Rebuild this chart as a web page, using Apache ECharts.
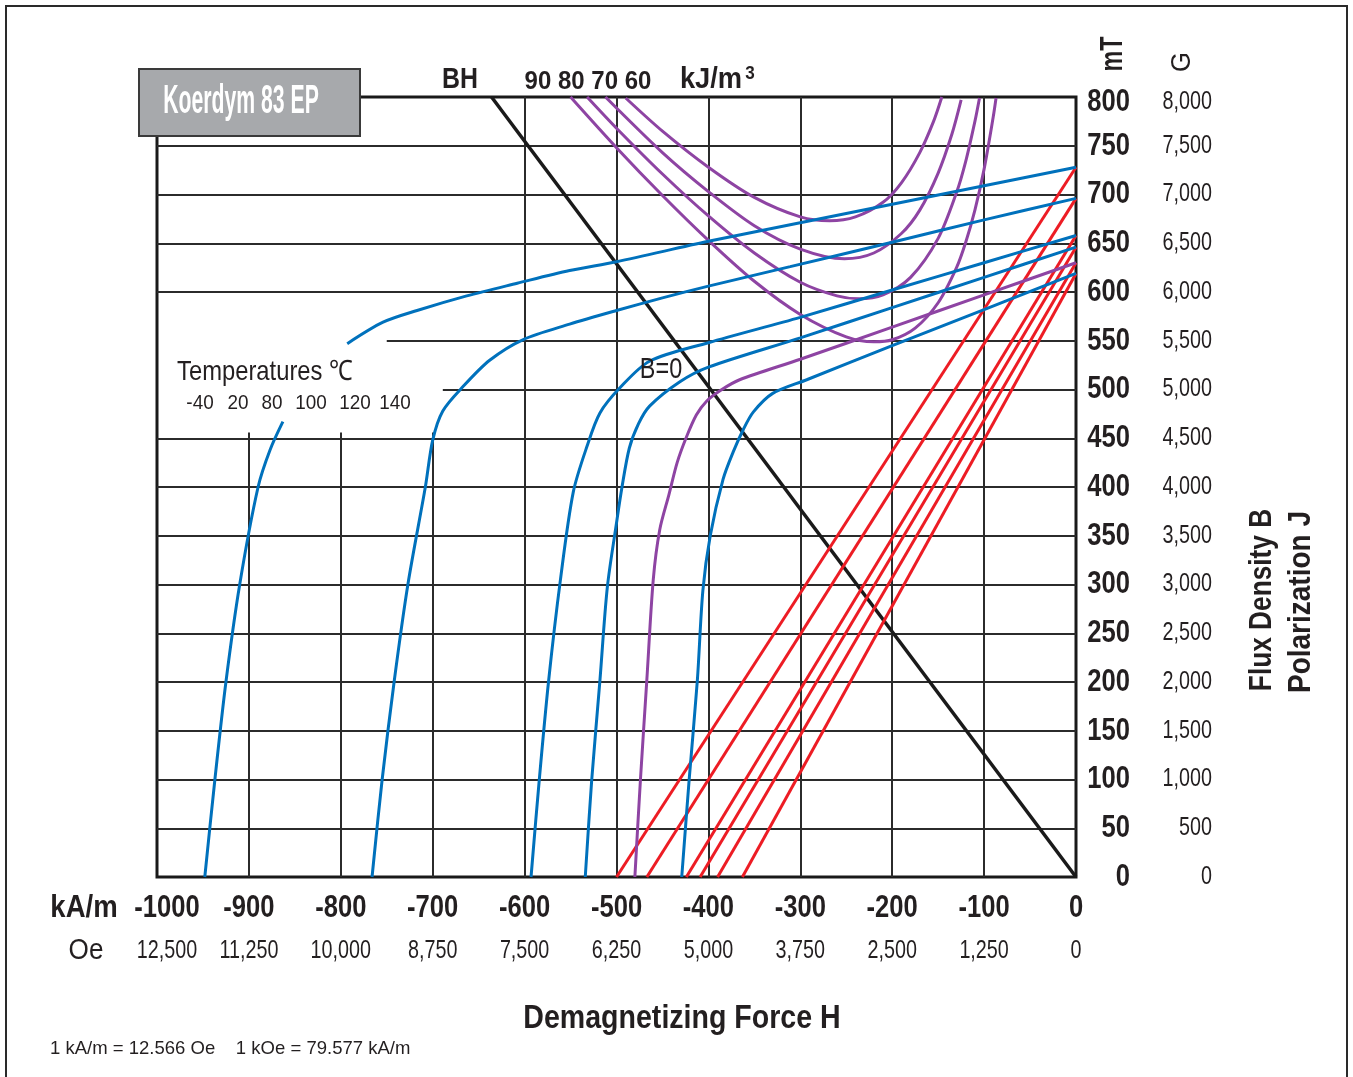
<!DOCTYPE html>
<html>
<head>
<meta charset="utf-8">
<title>Koerdym 83 EP – demagnetization curves</title>
<script src="https://cdn.jsdelivr.net/npm/echarts@6/dist/echarts.min.js"></script>
<style>
  html, body { margin: 0; padding: 0; background: #fff; }
  #chart { width: 1353px; height: 1077px; }
</style>
</head>
<body>
<div id="chart"></div>
<script>
// ---- axis scales and tick labels -------------------------------------------
const hMin = -1000, hMax = 0, hStep = 100;       // kA/m
const bMin = 0, bMax = 800, bStep = 50;          // mT
const oeLabels = ['12,500', '11,250', '10,000', '8,750', '7,500', '6,250',
                  '5,000', '3,750', '2,500', '1,250', '0'];
const gaussLabels = ['0', '500', '1,000', '1,500', '2,000', '2,500', '3,000', '3,500',
                     '4,000', '4,500', '5,000', '5,500', '6,000', '6,500', '7,000',
                     '7,500', '8,000'];
const temperatures = ['-40', '20', '80', '100', '120', '140'];
const energyLabels = ['90', '80', '70', '60'];

// ---- grid lines (values in kA/m and mT) ------------------------------------
const gridB = [50, 100, 150, 200, 250, 300, 350, 400, 450, 500, 550, 600, 650, 700, 750];
const gridH = [-900, -800, -700, -600, -500, -400, -300, -200, -100];
// grid lines stop short of the temperature caption
const rowStartH = { 550: -750, 500: -689 };
const colTopB = { '-900': 456, '-800': 456, '-700': 456 };

// ---- polarization J(H) per temperature [H kA/m, J mT] ----------------------
const jM40a = [[0, 728], [-100, 709], [-200, 690], [-311, 669], [-400, 652], [-500, 631],
               [-551, 622], [-608, 609], [-663, 596], [-717, 581], [-754, 569], [-793, 547]];
const jM40b = [[-863, 467], [-877, 438], [-890, 400], [-910, 300], [-925, 200],
               [-937, 100], [-948, 0]];
const j20 = [[0, 696], [-100, 674], [-200, 651], [-311, 626], [-400, 606], [-450, 594],
             [-500, 581], [-551, 567], [-602, 551], [-638, 530], [-667, 503], [-689, 478],
             [-700, 448], [-708, 400], [-727, 300], [-742, 200], [-755, 100], [-766, 0]];
const j80 = [[0, 658], [-100, 630], [-200, 602], [-300, 574], [-400, 548], [-464, 529],
             [-496, 502], [-518, 476], [-532, 442], [-547, 395], [-561, 305], [-574, 200],
             [-584, 100], [-593, 0]];
const j100 = [[0, 646], [-100, 615], [-200, 584], [-300, 553], [-400, 523], [-431, 508],
              [-464, 483], [-476, 465], [-486, 440], [-494, 400], [-500, 363], [-510, 297],
              [-518, 202], [-527, 99], [-534, 0]];
const j120 = [[0, 630], [-100, 597], [-200, 564], [-300, 531], [-366, 510], [-387, 499],
              [-402, 488], [-413, 474], [-424, 451], [-434, 425], [-443, 392], [-453, 356],
              [-460, 305], [-467, 202], [-474, 99], [-480, 0]];
const j140 = [[0, 619], [-100, 582], [-200, 545], [-293, 510], [-330, 496], [-351, 477],
              [-362, 459], [-373, 436], [-384, 408], [-398, 350], [-406, 294], [-412, 202],
              [-421, 99], [-429, 0]];

// ---- flux density B(H) per temperature [H kA/m, B mT] ----------------------
const bM40 = [[0, 728], [-500, 0]];
const b20 = [[0, 696], [-467, 0]];
const b80 = [[0, 658], [-424, 0]];
const b100 = [[0, 646], [-409, 0]];
const b120 = [[0, 630], [-390, 0]];
const b140 = [[0, 619], [-363, 0]];

// ---- constant energy product curves on the J scale [H kA/m, J mT] ----------
const bh90 = [[-490, 799], [-450, 765], [-400, 728], [-350, 697], [-300, 677], [-268, 673],
              [-240, 677], [-210, 692], [-190, 712], [-170, 743], [-155, 775], [-146, 800]];
const bh80 = [[-512, 800], [-450, 743], [-400, 703], [-350, 668], [-300, 644], [-252, 634],
              [-220, 640], [-190, 660], [-170, 684], [-150, 722], [-135, 762], [-125, 797]];
const bh70 = [[-532, 800], [-500, 768], [-450, 721], [-400, 678], [-350, 640], [-300, 610],
              [-260, 596], [-236, 593], [-210, 597], [-180, 615], [-150, 655], [-130, 702],
              [-120, 734], [-110, 775], [-105, 799]];
const bh60 = [[-550, 800], [-500, 748], [-450, 699], [-400, 653], [-350, 611], [-300, 577],
              [-250, 554], [-220, 549], [-200, 551], [-175, 563], [-150, 589], [-130, 625],
              [-120, 651], [-110, 684], [-100, 726], [-90, 780], [-87, 799]];

// ---- B = 0 line on the J scale [H kA/m, J mT] ------------------------------
const bZeroLine = [[-636, 800], [0, 0]];

// ---- styling ---------------------------------------------------------------
const SANS = "'Liberation Sans', Arial, Helvetica, sans-serif";
const INK = '#231f20';
const BLUE = '#0071bc';
const PURPLE = '#8e44a3';
const RED = '#ed1c24';

function curve(data, color, name, width) {
  return {
    type: 'line', name, data, color,
    showSymbol: false, symbol: 'none', smooth: 0.3,
    lineStyle: { color, width: width || 3 }, z: 3, silent: true, animation: false
  };
}

// grid segments built from the tick values
const gridSegments = [];
gridB.forEach(b => {
  const start = rowStartH[b] !== undefined ? rowStartH[b] : hMin;
  gridSegments.push({ coords: [[start, b], [hMax, b]] });
});
gridH.forEach(h => {
  const top = colTopB[String(h)] !== undefined ? colTopB[String(h)] : bMax;
  gridSegments.push({ coords: [[h, bMin], [h, top]] });
});

// condensed text: a regular face squeezed horizontally
function txt(x, y, text, font, sx, style, el) {
  return Object.assign({
    type: 'text', x, y, silent: true, z: 100, scaleX: sx || 1,
    style: Object.assign({ text, font, fill: INK, textAlign: 'center', textVerticalAlign: 'middle' },
                         style || {})
  }, el || {});
}

const hiddenAxis = { axisLine: { show: false }, axisTick: { show: false },
                     splitLine: { show: false }, axisLabel: { show: false } };

const option = {
  animation: false,
  backgroundColor: '#ffffff',
  grid: { left: 157, top: 97, width: 919, height: 780,
          show: true, borderColor: '#1a1a1a', borderWidth: 3, backgroundColor: 'transparent' },
  xAxis: Object.assign({ type: 'value', min: hMin, max: hMax, interval: hStep }, hiddenAxis),
  yAxis: Object.assign({ type: 'value', min: bMin, max: bMax, interval: bStep, position: 'right' }, hiddenAxis),
  series: [
    { type: 'lines', coordinateSystem: 'cartesian2d', silent: true, z: 1,
      lineStyle: { color: '#2b2b2b', width: 2, opacity: 1 }, data: gridSegments,
      animation: false },
    curve(bZeroLine, '#1a1a1a', 'B=0', 3.5),
    curve(bh90, PURPLE, 'BH 90'), curve(bh80, PURPLE, 'BH 80'),
    curve(bh70, PURPLE, 'BH 70'), curve(bh60, PURPLE, 'BH 60'),
    curve(bM40, RED, 'B -40'), curve(b20, RED, 'B 20'), curve(b80, RED, 'B 80'),
    curve(b100, RED, 'B 100'), curve(b120, RED, 'B 120'), curve(b140, RED, 'B 140'),
    curve(jM40a, BLUE, 'J -40'), curve(jM40b, BLUE, 'J -40 low'),
    curve(j20, BLUE, 'J 20'), curve(j80, BLUE, 'J 80'), curve(j100, BLUE, 'J 100'),
    curve(j120, PURPLE, 'J 120'), curve(j140, BLUE, 'J 140')
  ]
};

const chart = echarts.init(document.getElementById('chart'), null, { renderer: 'canvas' });
chart.setOption(option);

// ---- tick labels placed through the axis scales ----------------------------
const px = v => chart.convertToPixel({ xAxisIndex: 0 }, v);
const py = v => chart.convertToPixel({ yAxisIndex: 0 }, v);
const axisBottom = py(bMin), axisRight = px(hMax);
const BOLD = 'bold 32px ' + SANS, REG = '25px ' + SANS;
const ticks = [];
oeLabels.forEach((oe, i) => {
  const v = hMin + i * hStep;
  const nudge = i === 0 ? 10 : 0;
  ticks.push(txt(px(v) + nudge, axisBottom + 31, String(v), BOLD, 0.8));
  ticks.push(txt(px(v) + nudge, axisBottom + 74, oe, REG, 0.79));
});
gaussLabels.forEach((g, i) => {
  const v = bMin + i * bStep;
  const dy = v === bMax ? 5 : 0;
  ticks.push(txt(axisRight + 54, py(v) + dy, String(v), BOLD, 0.8, { textAlign: 'right' }));
  ticks.push(txt(axisRight + 136, py(v) + dy, g, REG, 0.79, { textAlign: 'right' }));
});

const tempPos = [200, 238, 272, 311, 355, 395];
const labels = [
  // page frame
  { type: 'rect', z: 0, silent: true, shape: { x: 6, y: 6, width: 1341, height: 1090 },
    style: { fill: 'none', stroke: '#2a2a2a', lineWidth: 2 } },
  // product label
  { type: 'rect', z: 100, silent: true, shape: { x: 139, y: 69, width: 221, height: 67 },
    style: { fill: '#a7a9ac', stroke: '#3a3a3a', lineWidth: 2 } },
  txt(241, 102, 'Koerdym 83 EP', 'bold 40px ' + SANS, 0.53, { fill: '#ffffff' }),
  // energy product header
  txt(460, 80, 'BH', 'bold 30px ' + SANS, 0.83),
  txt(588, 82, energyLabels.join(' '), 'bold 25px ' + SANS, 0.96),
  txt(711, 80, 'kJ/m', 'bold 30px ' + SANS, 0.91),
  txt(750, 74, '3', 'bold 19px ' + SANS, 0.9),
  // right axis headers
  txt(1113, 54, 'mT', 'bold 32px ' + SANS, 0.73, null, { rotation: Math.PI / 2 }),
  txt(1183, 62, 'G', '27px ' + SANS, 0.95, null, { rotation: Math.PI / 2 }),
  txt(1262, 600, 'Flux Density B', 'bold 32px ' + SANS, 0.82, null, { rotation: Math.PI / 2 }),
  txt(1301, 602, 'Polarization J', 'bold 32px ' + SANS, 0.875, null, { rotation: Math.PI / 2 }),
  // bottom axis headers
  txt(84, 908, 'kA/m', 'bold 32px ' + SANS, 0.86),
  txt(86, 951, 'Oe', '30px ' + SANS, 0.87),
  txt(682, 1019, 'Demagnetizing Force H', 'bold 34px ' + SANS, 0.84),
  txt(50, 1049, '1 kA/m = 12.566 Oe    1 kOe = 79.577 kA/m', '19px ' + SANS, 0.975,
      { textAlign: 'left' }),
  // temperature caption
  txt(177, 372, 'Temperatures \u2103', '28px ' + SANS, 0.85, { textAlign: 'left' }),
  txt(661, 370, 'B=0', '30px ' + SANS, 0.78)
].concat(temperatures.map((t, i) => txt(tempPos[i], 403, t, '21px ' + SANS, 0.9)));

chart.setOption({ graphic: { elements: labels.concat(ticks) } });
</script>
</body>
</html>
